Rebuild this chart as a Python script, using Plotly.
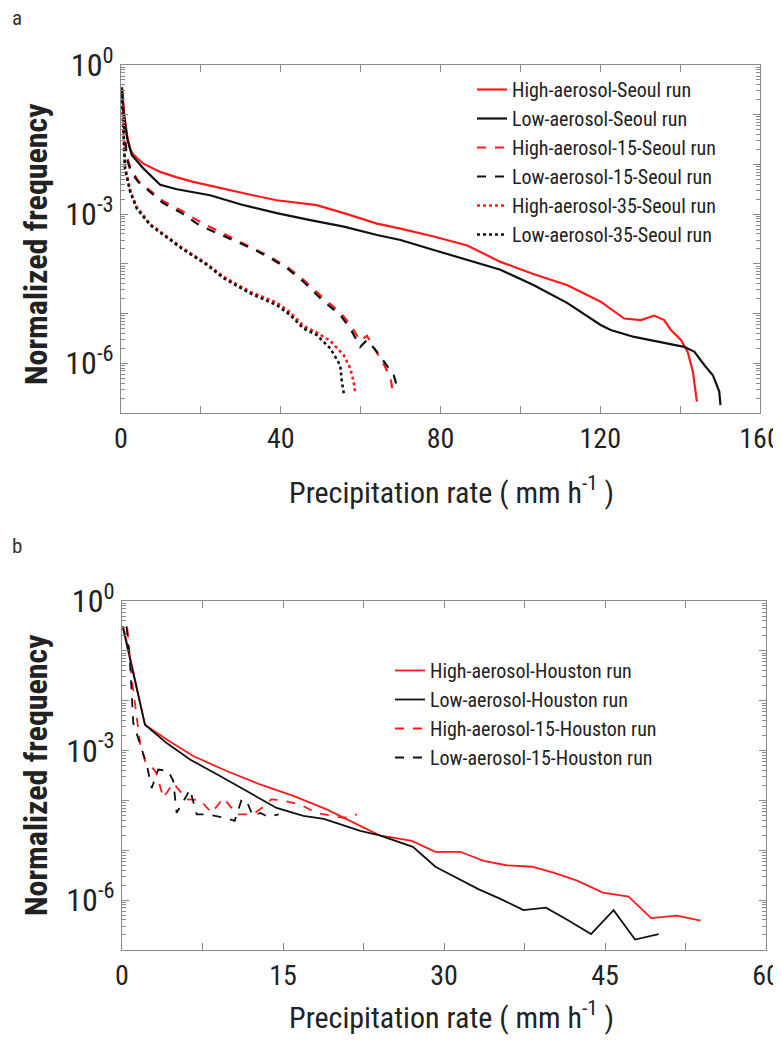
import plotly.graph_objects as go

# ---------------- Panel a data (x: mm/h, y: log10 normalized frequency) --------------
a_high_x = [0.2, 0.8, 1.6, 2.4, 3.1, 5.5, 9.8, 14.0, 18.1, 26.5, 33.0, 39.0, 49.0, 55.8, 64.1, 70.0, 78.3,
            86.7, 95.0, 103.4, 111.8, 120.1, 126.0, 130.2, 133.5, 136.0, 137.7, 140.2, 141.9, 143.2, 144.2]
a_high_y = [-0.44, -1.0, -1.45, -1.71, -1.80, -1.98, -2.15, -2.26, -2.35, -2.51, -2.62, -2.72, -2.82, -2.98,
            -3.19, -3.29, -3.45, -3.63, -3.96, -4.21, -4.43, -4.76, -5.10, -5.13, -5.04, -5.13, -5.33, -5.53,
            -5.77, -6.17, -6.77]

a_low_x = [0.2, 0.8, 1.6, 2.7, 5.6, 9.8, 14.0, 22.3, 30.7, 39.0, 47.4, 55.8, 64.1, 70.0, 78.3, 86.7, 95.0,
           103.4, 111.8, 120.1, 122.6, 128.5, 136.8, 141.0, 143.6, 146.1, 148.2, 149.8, 150.1]
a_low_y = [-0.47, -1.05, -1.5, -1.81, -2.08, -2.41, -2.50, -2.62, -2.82, -2.98, -3.12, -3.25, -3.42, -3.52,
           -3.72, -3.92, -4.12, -4.43, -4.79, -5.23, -5.33, -5.47, -5.60, -5.67, -5.77, -6.04, -6.24, -6.57,
           -6.84]

a_high15_x = [0.2, 0.8, 1.5, 2.5, 4.3, 7.3, 10.6, 15.2, 19.0, 22.3, 27.3, 32.8, 36.9, 41.6, 45.7, 50.8,
              54.9, 57.4, 59.9, 61.6, 64.1, 66.0, 67.5, 67.9]
a_high15_y = [-0.45, -1.3, -1.85, -2.1, -2.33, -2.52, -2.74, -2.93, -3.12, -3.26, -3.46, -3.67, -3.84,
              -4.06, -4.32, -4.70, -4.98, -5.22, -5.55, -5.45, -5.78, -6.05, -6.3, -6.50]

a_low15_x = [0.2, 0.8, 1.5, 2.5, 4.3, 7.3, 10.6, 15.2, 19.0, 22.3, 27.3, 32.8, 36.9, 41.6, 45.7, 50.8,
             54.9, 57.4, 59.9, 61.6, 64.1, 66.6, 68.3, 69.1]
a_low15_y = [-0.47, -1.35, -1.9, -2.15, -2.35, -2.55, -2.78, -2.98, -3.19, -3.32, -3.50, -3.69, -3.86,
             -4.09, -4.36, -4.76, -5.03, -5.30, -5.67, -5.53, -5.77, -6.04, -6.24, -6.47]

a_high35_x = [0.2, 0.5, 1.0, 2.3, 3.9, 7.3, 10.6, 15.2, 21.5, 25.7, 32.3, 39.0, 42.4, 45.7, 49.0, 52.4,
              55.8, 57.4, 58.2, 58.7]
a_high35_y = [-0.45, -1.2, -2.05, -2.52, -2.85, -3.20, -3.40, -3.67, -4.00, -4.26, -4.56, -4.78, -4.98,
              -5.25, -5.38, -5.55, -5.84, -6.10, -6.35, -6.61]

a_low35_x = [0.2, 0.5, 1.0, 2.3, 3.9, 7.3, 10.6, 15.2, 21.5, 25.7, 32.3, 39.0, 42.4, 45.7, 49.0, 52.4,
             54.9, 55.3, 55.8]
a_low35_y = [-0.47, -1.25, -2.08, -2.55, -2.88, -3.22, -3.42, -3.69, -4.02, -4.29, -4.59, -4.83, -5.03,
             -5.30, -5.43, -5.70, -6.04, -6.37, -6.61]

# ---------------- Panel b data --------------
b_high_x = [0.12, 2.14, 4.16, 6.64, 9.75, 12.86, 15.96, 19.07, 22.2, 24.0, 27.0, 29.2, 31.5, 33.7, 35.8,
            38.2, 40.2, 42.4, 44.8, 47.2, 49.3, 51.7, 53.9]
b_high_y = [-0.51, -2.48, -2.78, -3.11, -3.41, -3.68, -3.91, -4.18, -4.51, -4.70, -4.81, -5.03, -5.03,
            -5.21, -5.30, -5.33, -5.45, -5.61, -5.85, -5.93, -6.36, -6.31, -6.41]

b_low_x = [0.06, 2.14, 4.16, 6.34, 9.13, 11.9, 14.4, 16.9, 18.8, 22.2, 24.0, 27.1, 29.2, 33.2, 35.2, 37.4,
           39.5, 41.6, 43.7, 45.8, 47.8, 50.0]
b_low_y = [-0.51, -2.48, -2.85, -3.18, -3.51, -3.85, -4.15, -4.31, -4.37, -4.61, -4.70, -4.93, -5.33, -5.78,
           -5.97, -6.20, -6.15, -6.41, -6.68, -6.20, -6.79, -6.68]

b_high15_x = [0.5, 0.9, 1.3, 1.68, 2.14, 2.6, 3.2, 3.85, 4.78, 6.03, 7.27, 8.36, 9.45, 10.7, 12.2, 13.3,
              13.9, 14.7, 16.6, 18.1, 20.6, 21.9]
b_high15_y = [-0.55, -1.55, -2.2, -2.85, -3.21, -3.28, -3.45, -3.95, -3.65, -3.98, -3.99, -4.25, -3.95,
              -4.28, -4.28, -4.11, -3.98, -3.99, -4.08, -4.25, -4.35, -4.28]

b_low15_x = [0.43, 0.75, 1.05, 1.84, 2.3, 2.77, 3.38, 4.31, 4.78, 5.09, 6.34, 6.96, 7.89, 9.6, 10.5, 11.15,
             11.6, 12.2, 12.9, 13.6, 14.6]
b_low15_y = [-0.51, -1.25, -2.45, -2.98, -3.28, -3.75, -3.38, -3.41, -3.61, -4.25, -3.78, -4.28, -4.28,
             -4.35, -4.41, -3.98, -4.01, -4.31, -4.25, -4.33, -4.28]

names_a = ["High-aerosol-Seoul run", "Low-aerosol-Seoul run", "High-aerosol-15-Seoul run",
           "Low-aerosol-15-Seoul run", "High-aerosol-35-Seoul run", "Low-aerosol-35-Seoul run"]
names_b = ["High-aerosol-Houston run", "Low-aerosol-Houston run", "High-aerosol-15-Houston run",
           "Low-aerosol-15-Houston run"]

a_x_ticks = [0, 20, 40, 60, 80, 100, 120, 140, 160]
a_x_text = ["0", "", "40", "", "80", "", "120", "", "160"]
b_x_ticks = [0, 7.5, 15, 22.5, 30, 37.5, 45, 52.5, 60]
b_x_text = ["0", "", "15", "", "30", "", "45", "", "60"]
y_decades = [1e0, 1e-1, 1e-2, 1e-3, 1e-4, 1e-5, 1e-6, 1e-7]
y_text = ["10<sup>0</sup>", "", "", "10<sup>-3</sup>", "", "", "10<sup>-6</sup>", ""]

RED = "#ff1a1a"
BLACK = "#111111"
FONT = "Roboto Condensed, Roboto, sans-serif"

# page body has an 8px margin: work in screen pixels and convert
OFF = 8
W, H = 781 - OFF, 1047 - OFF

def X(px):
    return (px - OFF) / W

def Y(py):
    return 1 - (py - OFF) / H

def pw(v):
    return [10 ** t for t in v]

def F(size, color="#222"):
    return dict(family=FONT, size=size, color=color)

fig = go.Figure()

styles = [(RED, "solid", 2.2), (BLACK, "solid", 2.2), (RED, "dash", 2.2),
          (BLACK, "dash", 2.2), (RED, "dot", 2.6), (BLACK, "dot", 2.6)]
a_series = [(a_high_x, a_high_y), (a_low_x, a_low_y), (a_high15_x, a_high15_y),
            (a_low15_x, a_low15_y), (a_high35_x, a_high35_y), (a_low35_x, a_low35_y)]
for (xs, ys), nm, (c, d, w) in zip(a_series, names_a, styles):
    fig.add_trace(go.Scatter(x=xs, y=pw(ys), mode="lines", name=nm,
                             line=dict(color=c, dash=d, width=w),
                             xaxis="x", yaxis="y", legend="legend"))

b_styles = [(RED, "solid", 1.8), (BLACK, "solid", 1.8), (RED, "dash", 1.8), (BLACK, "dash", 1.8)]
b_series = [(b_high_x, b_high_y), (b_low_x, b_low_y), (b_high15_x, b_high15_y), (b_low15_x, b_low15_y)]
for (xs, ys), nm, (c, d, w) in zip(b_series, names_b, b_styles):
    fig.add_trace(go.Scatter(x=xs, y=pw(ys), mode="lines", name=nm,
                             line=dict(color=c, dash=d, width=w),
                             xaxis="x2", yaxis="y2", legend="legend2"))

AX = "#8a8a8a"

def xaxis(dom, rng, tv, tt, anchor):
    return dict(domain=dom, range=rng, tickmode="array", tickvals=tv, ticktext=tt,
                ticks="inside", ticklen=7, tickcolor=AX, showline=True, linecolor=AX,
                linewidth=1.2, mirror="allticks", showgrid=False, zeroline=False,
                tickfont=F(28), anchor=anchor, automargin=False, ticklabeloverflow="allow")

def yaxis(dom, anchor):
    return dict(domain=dom, type="log", range=[-7, 0], tickmode="array", tickvals=y_decades,
                ticktext=y_text, ticks="inside", ticklen=7, tickcolor=AX, showline=True,
                linecolor=AX, linewidth=1.2, mirror="allticks", showgrid=False, zeroline=False,
                tickfont=F(32), anchor=anchor, automargin=False, ticklabeloverflow="allow",
                minor=dict(ticks="inside", ticklen=4, tickcolor=AX, dtick="D1", showgrid=False))

fig.update_layout(
    width=W, height=H, margin=dict(l=0, r=0, t=0, b=0, autoexpand=False),
    paper_bgcolor="white", plot_bgcolor="white",
    xaxis=xaxis([X(121), X(760)], [0, 160], a_x_ticks, a_x_text, "y"),
    yaxis=yaxis([Y(413), Y(65)], "x"),
    xaxis2=xaxis([X(122), X(766)], [0, 60], b_x_ticks, b_x_text, "y2"),
    yaxis2=yaxis([Y(950), Y(601)], "x2"),
    legend=dict(x=X(472), y=Y(70), xanchor="left", yanchor="top",
                bgcolor="rgba(0,0,0,0)", borderwidth=0, tracegroupgap=0,
                font=F(20), itemwidth=30),
    legend2=dict(x=X(390), y=Y(651), xanchor="left", yanchor="top",
                 bgcolor="rgba(0,0,0,0)", borderwidth=0, tracegroupgap=0,
                 font=F(20), itemwidth=30),
    showlegend=True,
)

annotations = [
    dict(text="a", x=X(11), y=Y(18), xref="paper", yref="paper", showarrow=False, borderpad=0,
         font=F(21, "#333"), xanchor="left", yanchor="middle"),
    dict(text="b", x=X(11), y=Y(546), xref="paper", yref="paper", showarrow=False, borderpad=0,
         font=F(21, "#333"), xanchor="left", yanchor="middle"),
    dict(text="<b>Normalized frequency</b>", x=X(36), y=Y(244), xref="paper", yref="paper",
         showarrow=False, textangle=-90, font=F(32), xanchor="center", yanchor="middle"),
    dict(text="<b>Normalized frequency</b>", x=X(36), y=Y(775), xref="paper", yref="paper",
         showarrow=False, textangle=-90, font=F(32), xanchor="center", yanchor="middle"),
    dict(text="Precipitation rate ( mm h<sup>-1</sup> )", x=X(451), y=Y(490), xref="paper",
         yref="paper", showarrow=False, font=F(30), xanchor="center", yanchor="middle"),
    dict(text="Precipitation rate ( mm h<sup>-1</sup> )", x=X(451), y=Y(1015), xref="paper",
         yref="paper", showarrow=False, font=F(30), xanchor="center", yanchor="middle"),
]
fig.update_layout(annotations=annotations)

fig.write_html("out.html")
